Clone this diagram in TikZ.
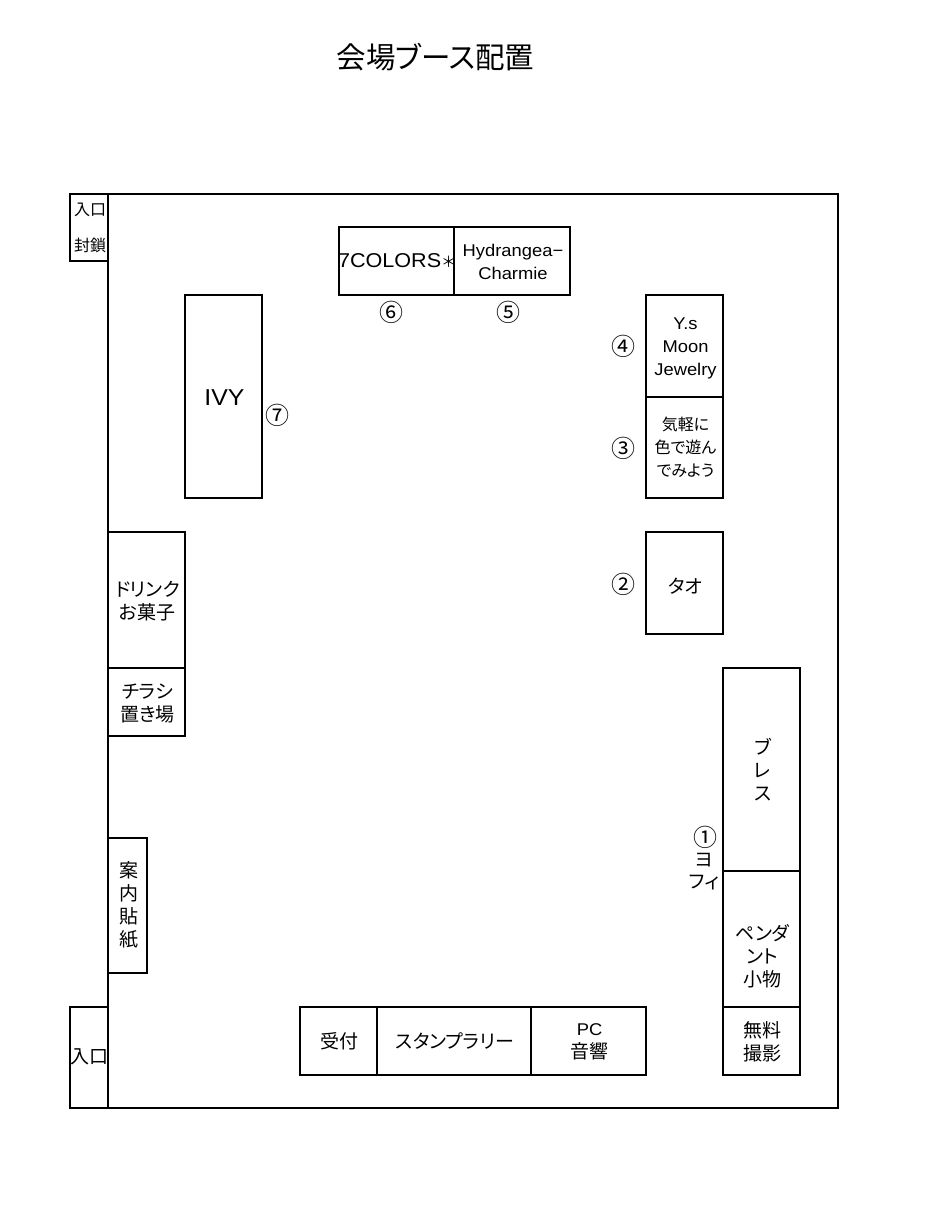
\documentclass[tikz,border=0pt]{standalone}
\usepackage{fontspec}
\setmainfont[RawFeature=+palt]{Noto Sans CJK JP}
\newfontfamily\latinfont[FakeStretch=1.08]{Liberation Sans}
\newfontfamily\cjkplain{Noto Sans CJK JP}
\newcommand{\fs}[1]{\fontsize{#1}{#1}\selectfont}
\newcommand{\cjksmall}{\fs{16}}
\newcommand{\lat}{\latinfont\fs{17}}
\tikzset{
  wall/.style={draw=black,line width=2pt,inner sep=0pt,outer sep=0pt,anchor=north west},
  booth/.style={draw=black,line width=1.5pt,inner sep=0pt,outer sep=0pt,anchor=north west},
  boothtext/.style={inner sep=0pt,outer sep=0pt,align=center,font=\fs{19},execute at begin node={\setlength{\baselineskip}{23pt}}},
  lab/.style={inner sep=0pt,font=\fs{19}},
  num/.style={inner sep=0pt,font=\fs{24}},
}
\newcommand{\booth}[7][0]{%
  \pgfmathsetlengthmacro{\bw}{(#5-#3)*1pt}%
  \pgfmathsetlengthmacro{\bh}{(#6-#4)*1pt}%
  \node[booth,minimum width=\bw,minimum height=\bh] (#2) at (#3,#4) {};
  \node[boothtext] (#2t) at ([xshift=1pt,yshift=-#1pt]#2.center) {#7};}
\begin{document}
\begin{tikzpicture}[x=1pt,y=-1pt]
\useasboundingbox (0,0) rectangle (924,1221);
\fill[white] (0,0) rectangle (924,1221);
\node[inner sep=0pt,font=\fs{29.5}] (title) at (435.5,57) {会場ブース配置};
% outer walls
\node[wall,minimum width=730pt,minimum height=914pt] (room) at (108,194) {};
\node[wall,minimum width=38pt,minimum height=67pt] (closed) at (70,194) {};
\node[wall,minimum width=38pt,minimum height=101pt] (entry) at (70,1007) {};
\node[lab,font=\fs{16}] (closedA) at (90,210) {入口};
\node[lab,font=\fs{16}] (closedB) at (90,245) {封鎖};
\node[lab] (entryT) at (89.5,1057) {入口};
% booths
\booth{colors}{339}{227}{454}{295}{\hbox to 115pt{\hspace{-2pt}\latinfont\fs{20}7COLORS\hfill\cjkplain\fs{15}＊\hspace{-1pt}}}
\booth[1]{hydr}{454}{227}{570}{295}{\lat Hydrangea−\\\lat Charmie}
\booth[1]{ivy}{185}{295}{262}{498}{\latinfont\fs{23}IVY}
\booth[2]{moon}{646}{295}{723}{397}{\lat Y.s\\\lat Moon\\\lat Jewelry}
\booth{easy}{646}{397}{723}{498}{\cjksmall\setlength{\baselineskip}{19.5pt}気軽に\\\cjksmall 色で遊ん\\\cjksmall でみよう}
\booth[3]{tao}{646}{532}{723}{634}{タオ}
\booth[1]{drink}{108}{532}{185}{668}{ドリンク\\お菓子}
\booth[1.5]{flyer}{108}{668}{185}{736}{チラシ\\置き場}
\booth[-1]{notice}{108}{838}{147}{973}{案\\内\\貼\\紙}
\booth{brace}{723}{668}{800}{871}{ブ\\レ\\ス}
\booth[17]{pend}{723}{871}{800}{1007}{ペンダ\\ント\\小物}
\booth[1]{photo}{723}{1007}{800}{1075}{無料\\撮影}
\booth{recv}{300}{1007}{377}{1075}{受付}
\booth{stamp}{377}{1007}{531}{1075}{スタンプラリー}
\booth[1]{pc}{531}{1007}{646}{1075}{\lat PC\\音響}
% circled numbers
\node[num] (n6) at (391,312) {⑥};
\node[num] (n5) at (508,312) {⑤};
\node[num] (n4) at (623,346) {④};
\node[num] (n3) at (623,448) {③};
\node[num] (n2) at (623,584) {②};
\node[num] (n7) at (277,415) {⑦};
\node[num] (n1) at (705,837) {①};
\node[lab] (yo) at (704,860) {ヨ};
\node[lab] (fi) at (704,883) {フィ};
\end{tikzpicture}
\end{document}
